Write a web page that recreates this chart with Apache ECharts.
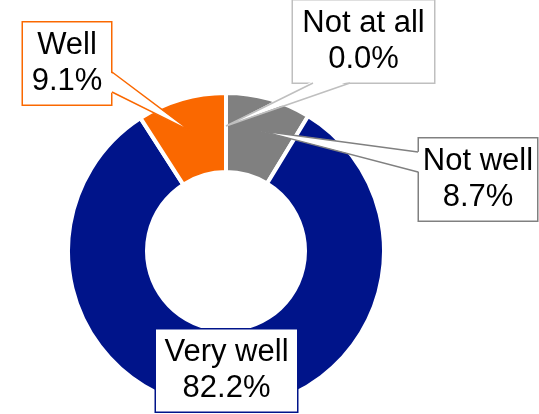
<!DOCTYPE html>
<html>
<head>
<meta charset="utf-8">
<script src="https://cdn.jsdelivr.net/npm/echarts@6/dist/echarts.min.js"></script>
<style>
html,body{margin:0;padding:0;background:#fff;}
#chart{width:539px;height:414px;}
</style>
</head>
<body>
<div id="chart"></div>
<script>
// Data
var categories = ['Not at all', 'Not well', 'Very well', 'Well'];
var values = [0.0, 8.7, 82.2, 9.1];

// Styles and layout (kept separate from data)
var sliceColors = ['#808080', '#808080', '#00148A', '#FA6800'];
var boxBorders = ['#BFBFBF', '#808080', '#00148A', '#FA6800'];
var boxCenters = [[363.5, 41.5], [478, 179.5], [226.5, 370.5], [67, 63.5]];
var boxWidths = [143, 120, 143, 90];
// callout wedge bases on box edges: [x1,y1,x2,y2, inward dx, inward dy]; null = no callout
var wedgeBases = [[313, 83, 350, 83, 0, -2], [418, 152, 418, 172, 2, 0], null, [112, 72, 112, 92, -2, 0]];
var pieCenter = [226, 251];
var pieRadius = [79, 158];
var tipRadius = 125;

var chart = echarts.init(document.getElementById('chart'), null, {renderer: 'canvas'});

var data = categories.map(function (name, i) {
  return {
    name: name,
    value: values[i],
    itemStyle: {color: sliceColors[i]},
    label: {borderColor: boxBorders[i], width: boxWidths[i] - 2}
  };
});

// callout tips at the angular middle of each slice (computed from data)
var total = values.reduce(function (a, b) { return a + b; }, 0);
var graphics = [];
var acc = 0;
values.forEach(function (v, i) {
  var midFrac = (acc + v / 2) / total;
  acc += v;
  var wb = wedgeBases[i];
  if (!wb) return;
  var ang = Math.PI / 2 - midFrac * 2 * Math.PI; // start at top, clockwise
  var tip = [pieCenter[0] + tipRadius * Math.cos(ang), pieCenter[1] - tipRadius * Math.sin(ang)];
  graphics.push({
    type: 'polygon', z: 50, silent: true,
    shape: {points: [[wb[0] + wb[4], wb[1] + wb[5]], tip, [wb[2] + wb[4], wb[3] + wb[5]]]},
    style: {fill: '#ffffff', stroke: null}
  });
  graphics.push({
    type: 'polyline', z: 51, silent: true,
    shape: {points: [[wb[0], wb[1]], tip, [wb[2], wb[3]]]},
    style: {fill: null, stroke: boxBorders[i], lineWidth: 1.5}
  });
});

chart.setOption({
  animation: false,
  backgroundColor: '#ffffff',
  graphic: graphics,
  series: [{
    type: 'pie',
    center: pieCenter,
    radius: pieRadius,
    startAngle: 90,
    clockwise: true,
    avoidLabelOverlap: false,
    itemStyle: {borderColor: '#ffffff', borderWidth: 4},
    label: {
      show: true,
      position: 'outside',
      formatter: function (p) { return p.name + '\n' + p.value.toFixed(1) + '%'; },
      fontFamily: 'Liberation Sans, Arial, sans-serif',
      fontSize: 31,
      lineHeight: 36,
      color: '#000000',
      backgroundColor: '#ffffff',
      borderWidth: 1.5,
      padding: [5, 0],
      align: 'center'
    },
    labelLine: {show: false},
    labelLayout: function (params) {
      var c = boxCenters[params.dataIndex];
      return {x: c[0], y: c[1], align: 'center', verticalAlign: 'middle', hideOverlap: false};
    },
    emphasis: {disabled: true},
    data: data
  }]
});
</script>
</body>
</html>
